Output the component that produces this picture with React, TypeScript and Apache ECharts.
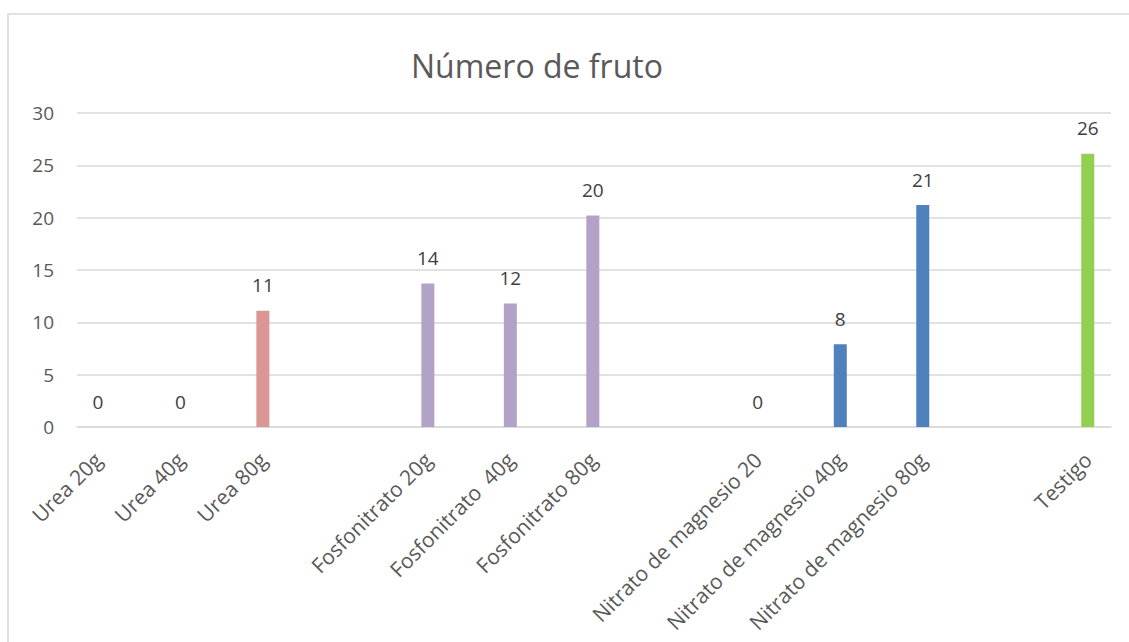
import React, { useEffect, useRef } from "react";
import * as echarts from "echarts";

const title = "Número de fruto";
const categories = [
  "Urea 20g",
  "Urea 40g",
  "Urea 80g",
  "",
  "Fosfonitrato 20g",
  "Fosfonitrato  40g",
  "Fosfonitrato 80g",
  "",
  "Nitrato de magnesio 20",
  "Nitrato de magnesio 40g",
  "Nitrato de magnesio 80g",
  "",
  "Testigo",
];
const values: (number | null)[] = [0, 0, 11.1, null, 13.7, 11.8, 20.2, null, 0, 7.9, 21.2, null, 26.1];
const groups: (string | null)[] = [
  "Urea", "Urea", "Urea", null,
  "Fosfonitrato", "Fosfonitrato", "Fosfonitrato", null,
  "Nitrato", "Nitrato", "Nitrato", null,
  "Testigo",
];
const groupColors: Record<string, string> = {
  Urea: "#D99694",
  Fosfonitrato: "#B3A2C7",
  Nitrato: "#4F81BD",
  Testigo: "#92D050",
};
const yTicks = { min: 0, max: 30, interval: 5 };

const FONT = "'Open Sans', sans-serif";

export default function App() {
  const ref = useRef<HTMLDivElement>(null);
  useEffect(() => {
    if (!ref.current) return;
    const chart = echarts.init(ref.current, undefined, { renderer: "svg" });
    const data = values.map((v, i) =>
      v == null
        ? "-"
        : { value: v, itemStyle: { color: groupColors[groups[i] as string] } }
    );
    chart.setOption({
      animation: false,
      backgroundColor: "#ffffff",
      textStyle: { fontFamily: FONT },
      title: {
        text: title,
        left: 406,
        top: 44,
        textStyle: { fontFamily: FONT, fontSize: 32, fontWeight: "normal", color: "#595959" },
      },
      graphic: [
        {
          type: "rect",
          shape: { x: 8, y: 14, width: 1300, height: 800 },
          style: { fill: "none", stroke: "#D9D9D9", lineWidth: 1.5 },
          silent: true,
        },
      ],
      grid: [
        { left: 77, right: 18, top: 113, bottom: 215 },
        { left: 56.65, right: -2.75, top: 113, bottom: 215 },
      ],
      xAxis: [
        {
          type: "value",
          gridIndex: 0,
          min: 0,
          max: 1,
          axisLine: { show: true, onZero: false, lineStyle: { color: "#D9D9D9", width: 1.5 } },
          axisTick: { show: false },
          axisLabel: { show: false },
          splitLine: { show: false },
        },
        {
          type: "category",
          gridIndex: 1,
          data: categories,
          axisLine: { show: false },
          axisTick: { show: false },
          axisLabel: {
            interval: 0,
            rotate: 45,
            margin: 29,
            fontFamily: FONT,
            fontSize: 21,
            color: "#595959",
          },
        },
      ],
      yAxis: [
        {
          type: "value",
          gridIndex: 0,
          min: yTicks.min,
          max: yTicks.max,
          interval: yTicks.interval,
          axisLine: { show: false },
          axisTick: { show: false },
          axisLabel: { margin: 23, fontFamily: FONT, fontSize: 19, color: "#595959" },
          splitLine: { show: true, lineStyle: { color: "#D9D9D9", width: 1.5 } },
        },
        {
          type: "value",
          gridIndex: 1,
          min: yTicks.min,
          max: yTicks.max,
          interval: yTicks.interval,
          axisLine: { show: false },
          axisTick: { show: false },
          axisLabel: { show: false },
          splitLine: { show: false },
        },
      ],
      series: [
        {
          type: "bar",
          xAxisIndex: 1,
          yAxisIndex: 1,
          barWidth: 13,
          data,
          label: {
            show: true,
            position: "top",
            distance: 16,
            fontFamily: FONT,
            fontSize: 19,
            color: "#404040",
            formatter: (p: any) => String(Math.round(p.value)),
          },
        },
      ],
    });
    return () => chart.dispose();
  }, []);
  return (
    <div
      ref={ref}
      style={{ position: "absolute", left: 0, top: 0, width: 1129, height: 642 }}
    />
  );
}
